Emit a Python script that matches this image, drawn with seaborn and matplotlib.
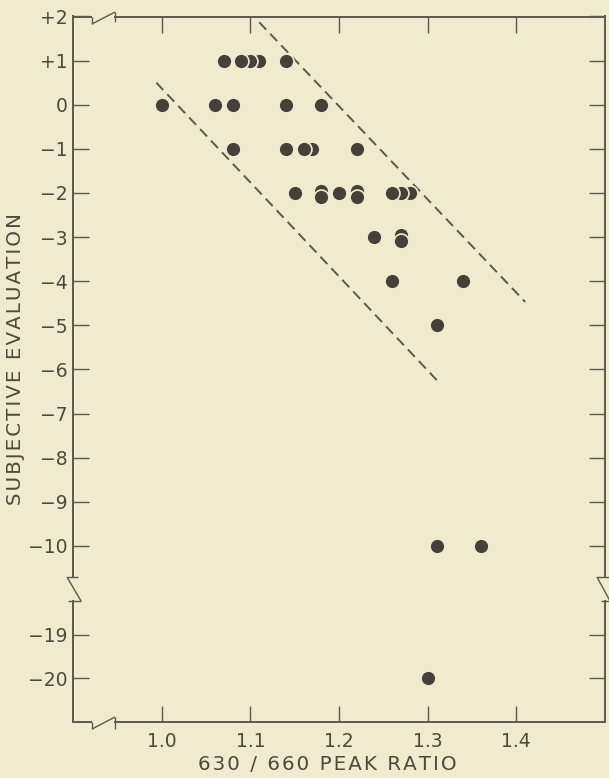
import matplotlib
matplotlib.use("Agg")
import matplotlib.pyplot as plt
import numpy as np
import pandas as pd
import seaborn as sns
from matplotlib.lines import Line2D

# ---------------- data ----------------
ratio = [1.07, 1.09, 1.10, 1.11, 1.14,
         1.00, 1.06, 1.08, 1.14, 1.18,
         1.08, 1.14, 1.16, 1.17, 1.22,
         1.15, 1.18, 1.18, 1.20, 1.22, 1.22, 1.26, 1.27, 1.28,
         1.24, 1.27, 1.27,
         1.26, 1.34,
         1.31,
         1.31, 1.36,
         1.30]
evaluation = [1, 1, 1, 1, 1,
              0, 0, 0, 0, 0,
              -1, -1, -1, -1, -1,
              -2, -1.96, -2.08, -2, -1.96, -2.08, -2, -2, -2,
              -3, -2.95, -3.08,
              -4, -4,
              -5,
              -10, -10,
              -20]

upper_band_x = [1.11, 1.41]
upper_band_y = [1.87, -4.47]
lower_band_x = [0.994, 1.313]
lower_band_y = [0.50, -6.30]

x_ticks = [1.0, 1.1, 1.2, 1.3, 1.4]
x_tick_labels = ["1.0", "1.1", "1.2", "1.3", "1.4"]
y_ticks_top = [2, 1, 0, -1, -2, -3, -4, -5, -6, -7, -8, -9, -10]
y_labels_top = ["+2", "+1", "0", "\u22121", "\u22122", "\u22123", "\u22124",
                "\u22125", "\u22126", "\u22127", "\u22128", "\u22129", "\u221210"]
y_ticks_bot = [-19, -20]
y_labels_bot = ["\u221219", "\u221220"]

x_title = "630 / 660 PEAK RATIO"
y_title = "SUBJECTIVE EVALUATION"

# ---------------- style ----------------
BG = "#f0ebcf"
INK = "#4d493f"
DOT = "#45413a"
LINE = "#5c584c"

sns.set_theme(style="white")
plt.rcParams["font.family"] = ["DejaVu Sans"]
plt.rcParams["text.color"] = INK
plt.rcParams["xtick.color"] = INK
plt.rcParams["ytick.color"] = INK

W, H = 609, 778
fig = plt.figure(figsize=(W / 100, H / 100), dpi=100, facecolor=BG)

def fx(px):
    return px / W

def fy(py):
    return 1 - py / H

left_px, right_px = 73, 605
top_px, top_break_px = 16.5, 577
bot_break_px, bottom_px = 601, 722

ax_top = fig.add_axes([fx(left_px), fy(top_break_px), (right_px - left_px) / W,
                       (top_break_px - top_px) / H])
ax_bot = fig.add_axes([fx(left_px), fy(bottom_px), (right_px - left_px) / W,
                       (bottom_px - bot_break_px) / H])

df = pd.DataFrame({"ratio": ratio, "evaluation": evaluation})
df = df.sort_values(["ratio", "evaluation"], ascending=[False, False])
top_df = df[df["evaluation"] > -15]
bot_df = df[df["evaluation"] <= -15]

for ax, d in ((ax_top, top_df), (ax_bot, bot_df)):
    ax.set_facecolor(BG)
    sns.scatterplot(data=d, x="ratio", y="evaluation", ax=ax, s=115,
                    color=DOT, edgecolor=BG, linewidth=1.2, legend=False,
                    zorder=3)
    ax.set_xlim(0.9, 1.5)
    ax.set_xlabel("")
    ax.set_ylabel("")
    ax.set_xticks(x_ticks)
    for side in ("left", "right", "top", "bottom"):
        ax.spines[side].set_color(LINE)
        ax.spines[side].set_linewidth(1.4)

for bx, by in ((upper_band_x, upper_band_y), (lower_band_x, lower_band_y)):
    sns.lineplot(x=bx, y=by, ax=ax_top, color=LINE, linewidth=1.4,
                 linestyle=(0, (5.2, 3.0)), zorder=2)

ytop_lo = -10 - (top_break_px - 546) / 44.0
ax_top.set_ylim(ytop_lo, 2)
ybot_hi = -19 + (635 - bot_break_px) / 44.0
ax_bot.set_ylim(-21, ybot_hi)

ax_top.set_yticks(y_ticks_top)
ax_top.set_yticklabels(y_labels_top)
ax_bot.set_yticks(y_ticks_bot)
ax_bot.set_yticklabels(y_labels_bot)

ax_top.spines["bottom"].set_visible(False)
ax_bot.spines["top"].set_visible(False)

tick_len = 11.5
ax_top.tick_params(axis="x", bottom=False, top=True, labelbottom=False,
                   labeltop=False, direction="in", length=tick_len, width=1.0,
                   color=LINE)
ax_bot.tick_params(axis="x", bottom=True, top=False, labelbottom=True,
                   direction="in", length=tick_len, width=1.0, color=LINE,
                   labelsize=13.5, pad=7)
ax_bot.set_xticklabels(x_tick_labels)
for ax in (ax_top, ax_bot):
    ax.tick_params(axis="y", left=True, right=True, labelleft=True,
                   labelright=False, direction="in", length=tick_len,
                   width=1.0, color=LINE, labelsize=13.5, pad=4)

# x-axis break: hide the first piece of top/bottom spine and redraw with a zigzag
x_gap_b = 1.0 + (115 - 162) / 887.0
ax_top.spines["top"].set_bounds(x_gap_b, 1.5)
ax_bot.spines["bottom"].set_bounds(x_gap_b, 1.5)

def seg(p, q, lw=1.3):
    fig.add_artist(Line2D([fx(p[0]), fx(q[0])], [fy(p[1]), fy(q[1])],
                          color=LINE, linewidth=lw, solid_capstyle="butt"))

# bottom x break
seg((left_px, bottom_px), (92, bottom_px), 1.4)
seg((92, bottom_px), (92, 729), 1.0)
seg((92, 729), (115, 717), 1.0)
seg((115, 717), (115, 729), 1.0)
# top x break
seg((left_px, top_px), (92, top_px), 1.4)
seg((92, top_px), (92, 24), 1.0)
seg((92, 24), (115, 12), 1.0)
seg((115, 12), (115, 22), 1.0)
# left y break
seg((left_px - 6, top_break_px), (left_px + 5, top_break_px), 1.0)
seg((left_px - 6, top_break_px), (left_px + 8, bot_break_px), 1.0)
seg((left_px - 5, bot_break_px), (left_px + 8, bot_break_px), 1.0)
# right y break
seg((right_px - 8, top_break_px), (right_px + 4, top_break_px), 1.0)
seg((right_px - 8, top_break_px), (right_px + 5, bot_break_px), 1.0)
seg((right_px - 4, bot_break_px), (right_px + 5, bot_break_px), 1.0)

def spaced(s):
    return "\u200a".join(s)

fig.text(fx(16), fy(359), spaced(y_title), rotation=90, ha="center",
         va="center", fontsize=14.3, color=INK)
fig.text(fx(327.5), fy(764), spaced(x_title), ha="center", va="center",
         fontsize=14.3, color=INK)

fig.savefig("out.png", dpi=100, facecolor=BG)
